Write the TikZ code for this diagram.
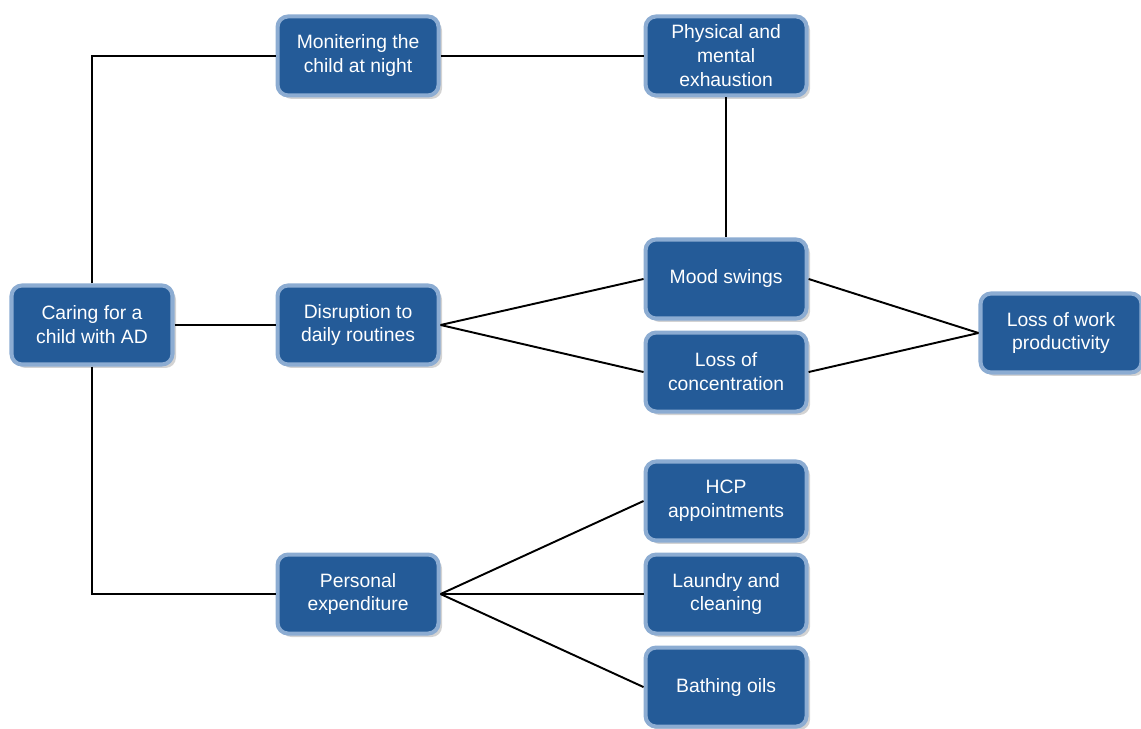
\documentclass[tikz,border=0pt]{standalone}
\usepackage{xcolor}
\usepackage{fontspec}
\setmainfont{Liberation Sans}
\usepackage{tikz}
\usetikzlibrary{positioning,shadows}
\definecolor{BoxBlue}{HTML}{245B98}
\definecolor{RimBlue}{HTML}{8CACD2}
\definecolor{LinkBlack}{HTML}{000000}
\tikzset{
  CB/.style={rectangle,rounded corners=6pt,
             minimum width=3.22cm,minimum height=1.58cm,
             text centered,align=center,draw=RimBlue,line width=2.3pt,
             fill=BoxBlue,text=white,
             font=\fontsize{11}{13.6}\selectfont,
             drop shadow={opacity=0.35,shadow xshift=0.07cm,shadow yshift=-0.07cm}},
  ln/.style={draw=LinkBlack,line width=1.1pt}
}
\begin{document}
\begin{tikzpicture}
  \useasboundingbox (0,0) rectangle (22.82,14.58);
  \node[CB] (care) at (1.84,8.08) {Caring for a\\child with AD};
  \node[CB,right=2.02cm of care] (disrupt) {Disruption to\\daily routines};
  \node[CB,above=3.72cm of disrupt] (monitor) {Monitering the\\child at night};
  \node[CB,below=3.72cm of disrupt] (expend) {Personal\\expenditure};
  \node[CB,right=4.06cm of monitor] (exhaust) {Physical and\\mental\\exhaustion};
  \node[CB,right=4.06cm of disrupt,yshift=0.92cm] (mood) {Mood swings};
  \node[CB,below=0.2cm of mood] (conc) {Loss of\\concentration};
  \node[CB] (work) at (21.22,7.92) {Loss of work\\productivity};
  \node[CB,right=4.06cm of expend] (laundry) {Laundry and\\cleaning};
  \node[CB,above=0.2cm of laundry] (hcp) {HCP\\appointments};
  \node[CB,below=0.2cm of laundry] (bath) {Bathing oils};

  \draw[ln](care.north)|-(monitor.west);
  \draw[ln](care.south)|-(expend.west);
  \draw[ln](care)--(disrupt);
  \draw[ln](monitor)--(exhaust);
  \draw[ln](exhaust)--(mood);
  \draw[ln](disrupt.east)--(mood.west);
  \draw[ln](disrupt.east)--(conc.west);
  \draw[ln](mood.east)--(work.west);
  \draw[ln](conc.east)--(work.west);
  \draw[ln](expend.east)--(hcp.west);
  \draw[ln](expend.east)--(laundry.west);
  \draw[ln](expend.east)--(bath.west);
\end{tikzpicture}
\end{document}
